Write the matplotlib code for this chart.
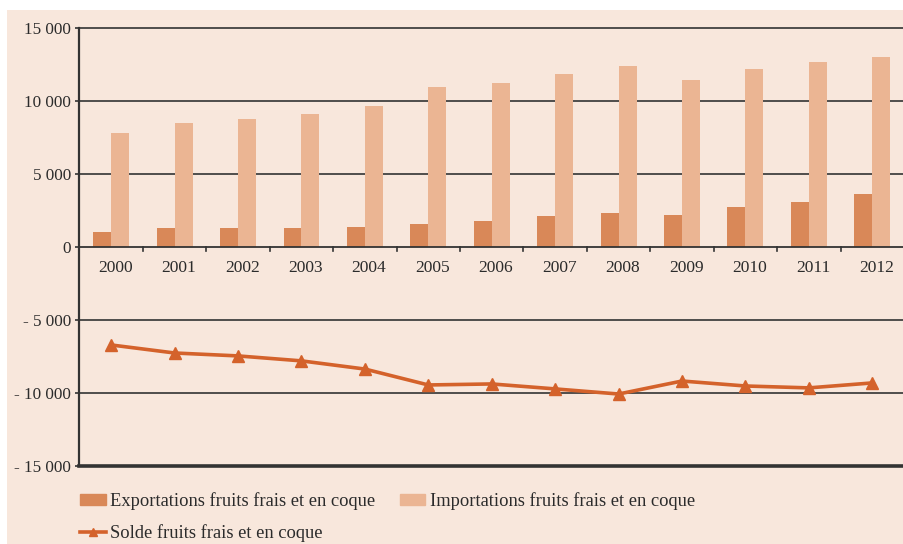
import matplotlib.pyplot as plt
from matplotlib.patches import Rectangle, Patch
from matplotlib.lines import Line2D

# Data
years = ['2000', '2001', '2002', '2003', '2004', '2005', '2006',
         '2007', '2008', '2009', '2010', '2011', '2012']
exportations = [1050, 1280, 1280, 1270, 1350, 1550, 1800,
                2100, 2330, 2190, 2720, 3060, 3630]
importations = [7790, 8490, 8770, 9100, 9650, 10960, 11230,
                11850, 12400, 11420, 12190, 12670, 12990]
solde = [-6710, -7260, -7460, -7800, -8360, -9450, -9380,
         -9720, -10070, -9180, -9520, -9650, -9310]
y_ticks = [15000, 10000, 5000, 0, -5000, -10000, -15000]
y_tick_labels = ['15 000', '10 000', '5 000', '0', '- 5 000', '- 10 000', '- 15 000']

# Colours
BG = '#F8E7DC'
EXPORT_COLOR = '#D98858'
IMPORT_COLOR = '#EBB593'
LINE_COLOR = '#D4622B'
TEXT_COLOR = '#2b2b2b'
GRID_COLOR = '#333333'

plt.rcParams['font.family'] = ['Liberation Serif', 'DejaVu Serif']
plt.rcParams['font.size'] = 12

fig = plt.figure(figsize=(9.04, 5.44), dpi=100, facecolor='white')
fig.patches.append(Rectangle((7 / 904, 0), 1 - 7 / 904, 1 - 10 / 544,
                             transform=fig.transFigure, facecolor=BG,
                             edgecolor='none', zorder=-10))

ax = fig.add_axes([0.0879, 0.1434, 1 - 0.0879, 0.9485 - 0.1434])
ax.set_facecolor('none')

x = list(range(len(years)))
bar_w = 0.283

# Gridlines
for v in [15000, 10000, 5000, -5000, -10000]:
    ax.axhline(v, color=GRID_COLOR, lw=1.2, zorder=1, clip_on=False)
ax.axhline(0, color=GRID_COLOR, lw=1.3, zorder=4)
ax.axhline(-15000, color=GRID_COLOR, lw=2.6, zorder=4, clip_on=False)

ax.bar([i - bar_w / 2 for i in x], exportations, width=bar_w,
       color=EXPORT_COLOR, zorder=2, label='Exportations fruits frais et en coque')
ax.bar([i + bar_w / 2 for i in x], importations, width=bar_w,
       color=IMPORT_COLOR, zorder=2, label='Importations fruits frais et en coque')
ax.plot(x, solde, color=LINE_COLOR, lw=2.6, marker='^', markersize=8,
        zorder=5, label='Solde fruits frais et en coque')

# Category boundary ticks under the zero line
for b in [i + 0.5 for i in x[:-1]]:
    ax.plot([b, b], [0, -300], color=GRID_COLOR, lw=1.2, zorder=4)

# Year labels just below the zero line
for i, yr in zip(x, years):
    ax.annotate(yr, (i, 0), xytext=(3, -9), textcoords='offset points',
                ha='center', va='top', color=TEXT_COLOR, fontsize=12.5)

ax.set_xlim(-0.5, len(years) - 0.5)
ax.set_ylim(-15000, 15000)
ax.set_xticks([])
ax.set_yticks(y_ticks)
ax.set_yticklabels(y_tick_labels, color=TEXT_COLOR, fontsize=12.3)
ax.tick_params(axis='y', length=3, width=1.2, color=GRID_COLOR, pad=3)

for side in ['top', 'right', 'bottom']:
    ax.spines[side].set_visible(False)
ax.spines['left'].set_color(GRID_COLOR)
ax.spines['left'].set_linewidth(1.6)
ax.spines['left'].set_zorder(6)

# Legend: row 1 exports + imports, row 2 balance
handles = [
    Patch(color=EXPORT_COLOR),
    Line2D([], [], color=LINE_COLOR, lw=2.6, marker='^', markersize=6),
    Patch(color=IMPORT_COLOR),
]
labels = ['Exportations fruits frais et en coque',
          'Solde fruits frais et en coque',
          'Importations fruits frais et en coque']
leg = fig.legend(handles, labels, ncol=2, loc='upper left',
                 bbox_to_anchor=(80 / 904, 1 - 492 / 544),
                 frameon=False, fontsize=13.3, handlelength=1.4,
                 handleheight=0.5, handletextpad=0.25,
                 columnspacing=1.3, labelspacing=0.75, borderaxespad=0,
                 borderpad=0)
for t in leg.get_texts():
    t.set_color(TEXT_COLOR)

fig.savefig('out.png', dpi=100, facecolor=fig.get_facecolor())
